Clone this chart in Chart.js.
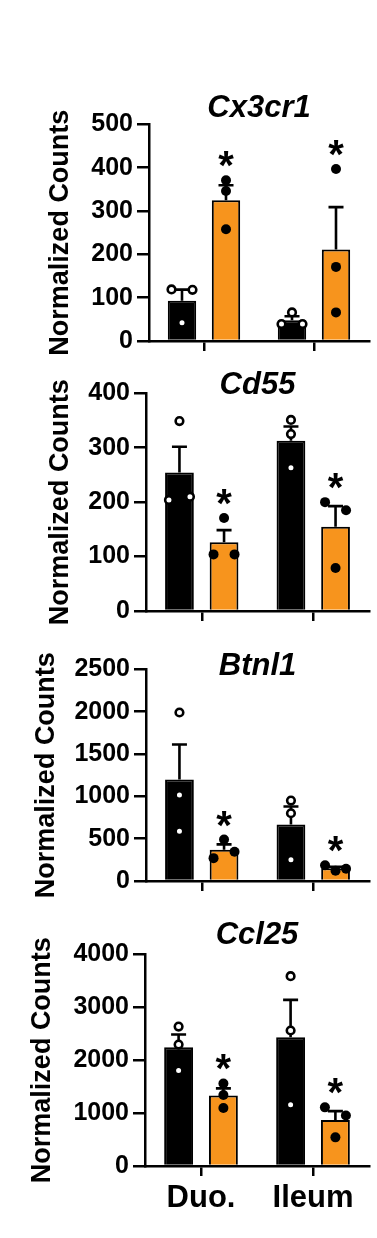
<!DOCTYPE html>
<html>
  <head>
    <title>Normalized Counts</title>
    <script src="https://cdn.jsdelivr.net/npm/chart.js"></script>
    <style>
      html, body {
        margin: 0;
        background: #fff;
      }
      .panel {
        position: absolute;
        left: 0;
      }
    </style>
  </head>
  <body>
    <div class="panel" style="top:60px"><canvas id="p1" width="377" height="300"></canvas></div>
    <div class="panel" style="top:360px"><canvas id="p2" width="377" height="270"></canvas></div>
    <div class="panel" style="top:640px"><canvas id="p3" width="377" height="260"></canvas></div>
    <div class="panel" style="top:900px"><canvas id="p4" width="377" height="338"></canvas></div>

    <script>
      // x categories and panel titles
      const regions = ['Duo.', 'Ileum'];
      const genes = ['Cx3cr1', 'Cd55', 'Btnl1', 'Ccl25'];
      // y axis range and tick step for each panel
      const yMax = [500, 400, 2500, 4000];
      const yStep = [100, 100, 500, 1000];

      // three replicates per region: [Duo., Ileum]
      const cx3cr1Black = [[119, 118, 42], [39, 66, 39]];
      const cx3cr1Orange = [[371, 346, 258], [397, 171, 66]];
      const cd55Black = [[204, 349, 210], [351, 325, 263]];
      const cd55Orange = [[104, 171, 104], [200, 185, 79]];
      const btnl1Black = [[1990, 1016, 588], [950, 800, 250]];
      const btnl1Orange = [[490, 270, 345], [185, 120, 145]];
      const ccl25Black = [[2634, 2295, 1803], [3587, 2560, 1157]];
      const ccl25Orange = [[1560, 1340, 1095], [1108, 954, 541]];

      // asterisk above the orange bar, per region
      const cx3cr1Stars = [true, true];
      const cd55Stars = [true, true];
      const btnl1Stars = [true, true];
      const ccl25Stars = [true, true];

      const ORANGE = '#F7941D';
      Chart.defaults.font.family = '"Liberation Sans", Arial, Helvetica, sans-serif';
      Chart.defaults.color = '#000';

      const mean = a => a.reduce((s, v) => s + v, 0) / a.length;
      const sem = a => {
        const m = mean(a);
        const sd = Math.sqrt(a.reduce((s, v) => s + (v - m) * (v - m), 0) / (a.length - 1));
        return sd / Math.sqrt(a.length);
      };

      // side-by-side offsets for replicates that would overlap (-1, 0, 1)
      function spread(vals, max) {
        const order = vals.map((v, i) => i).sort((a, b) => vals[b] - vals[a]);
        const off = vals.map(() => 0);
        const clusters = [];
        let cur = [order[0]];
        for (let k = 1; k < order.length; k++) {
          if (vals[cur[cur.length - 1]] - vals[order[k]] < 0.045 * max) cur.push(order[k]);
          else { clusters.push(cur); cur = [order[k]]; }
        }
        clusters.push(cur);
        clusters.forEach(c => {
          if (c.length < 2) return;
          c.sort((a, b) => a - b);
          c.forEach((idx, j) => { off[idx] = j * 2 / (c.length - 1) - 1; });
        });
        return off;
      }

      const dotsPlugin = {
        id: 'dots',
        afterDatasetsDraw(chart, args, opts) {
          const ctx = chart.ctx;
          const y = chart.scales.y;
          [opts.black, opts.orange].forEach((groups, s) => {
            const meta = chart.getDatasetMeta(s);
            groups.forEach((vals, i) => {
              const bar = meta.data[i];
              const m = mean(vals);
              const top = m + sem(vals);
              ctx.save();
              // error bar (mean + SEM)
              ctx.strokeStyle = '#000';
              ctx.lineWidth = 2.6;
              ctx.beginPath();
              ctx.moveTo(bar.x, y.getPixelForValue(m));
              ctx.lineTo(bar.x, y.getPixelForValue(top));
              ctx.moveTo(bar.x - 7.5, y.getPixelForValue(top));
              ctx.lineTo(bar.x + 7.5, y.getPixelForValue(top));
              ctx.stroke();
              // replicate points
              const off = spread(vals, opts.max);
              vals.forEach((v, k) => {
                ctx.beginPath();
                ctx.arc(bar.x + off[k] * 10.5, y.getPixelForValue(v), s ? 5 : 3.8, 0, Math.PI * 2);
                if (s) {
                  ctx.fillStyle = '#000';
                  ctx.fill();
                } else {
                  ctx.fillStyle = '#fff';
                  ctx.fill();
                  ctx.lineWidth = 2.6;
                  ctx.stroke();
                }
              });
              // significance star
              if (s === 1 && opts.stars[i]) {
                const hi = y.getPixelForValue(Math.max(top, Math.max(...vals)));
                ctx.font = 'bold 40px "Liberation Sans", Arial, sans-serif';
                ctx.fillStyle = '#000';
                ctx.textAlign = 'center';
                ctx.textBaseline = 'middle';
                ctx.fillText('*', bar.x, hi - 21 + 9);
              }
              ctx.restore();
            });
          });
        }
      };

      function makePanel(id, n, black, orange, stars, lay) {
        const ticks = [];
        for (let v = 0; v <= yMax[n]; v += yStep[n]) ticks.push(v);
        new Chart(document.getElementById(id), {
          type: 'bar',
          data: {
            labels: regions,
            datasets: [
              {
                data: black.map(mean),
                backgroundColor: '#000',
                borderColor: '#000',
                borderWidth: 2
              },
              {
                data: orange.map(mean),
                backgroundColor: ORANGE,
                borderColor: '#000',
                borderWidth: 2
              }
            ]
          },
          plugins: [dotsPlugin],
          options: {
            responsive: false,
            animation: false,
            categoryPercentage: 0.8,
            barPercentage: 0.645,
            layout: {
              padding: { top: lay.top, bottom: lay.bottom, left: lay.left, right: 8 }
            },
            scales: {
              x: {
                offset: true,
                grid: {
                  offset: false,
                  drawOnChartArea: false,
                  color: '#000',
                  lineWidth: 2.5,
                  tickLength: 10
                },
                border: { color: '#000', width: 2.5 },
                ticks: {
                  display: lay.labels,
                  padding: 4,
                  color: '#000',
                  font: { size: 31, weight: 'bold' }
                }
              },
              y: {
                min: 0,
                max: yMax[n],
                afterBuildTicks: s => { s.ticks = ticks.map(v => ({ value: v })); },
                afterFit: s => { s.width = lay.axisX - lay.left; },
                grid: {
                  drawOnChartArea: false,
                  color: '#000',
                  lineWidth: 2.5,
                  tickLength: 12
                },
                border: { color: '#000', width: 2.5 },
                ticks: {
                  padding: 4,
                  color: '#000',
                  font: { size: 25, weight: 'bold' },
                  callback: v => String(v)
                },
                title: {
                  display: true,
                  text: 'Normalized Counts',
                  color: '#000',
                  font: { size: 27, weight: 'bold' },
                  padding: { top: 0, bottom: 0 }
                }
              }
            },
            plugins: {
              legend: { display: false },
              tooltip: { enabled: false },
              title: {
                display: true,
                text: genes[n],
                fullSize: false,
                color: '#000',
                font: { size: 31, weight: 'bold', style: 'italic', lineHeight: 1 },
                padding: { top: 0, bottom: lay.titleGap }
              },
              dots: { black: black, orange: orange, stars: stars, max: yMax[n] }
            }
          }
        });
      }

      makePanel('p1', 0, cx3cr1Black, cx3cr1Orange, cx3cr1Stars,
        { top: 32.5, bottom: 6.7, left: 44.8, axisX: 149, titleGap: 0.8, labels: false });
      makePanel('p2', 1, cd55Black, cd55Orange, cd55Stars,
        { top: 9.5, bottom: 5, left: 44.8, axisX: 146, titleGap: -7.2, labels: false });
      makePanel('p3', 2, btnl1Black, btnl1Orange, btnl1Stars,
        { top: 10.5, bottom: 5, left: 30.3, axisX: 146, titleGap: -12.2, labels: false });
      makePanel('p4', 3, ccl25Black, ccl25Orange, ccl25Stars,
        { top: 19.5, bottom: 16.8, left: 26.8, axisX: 145, titleGap: 3.8, labels: true });
    </script>
  </body>
</html>
